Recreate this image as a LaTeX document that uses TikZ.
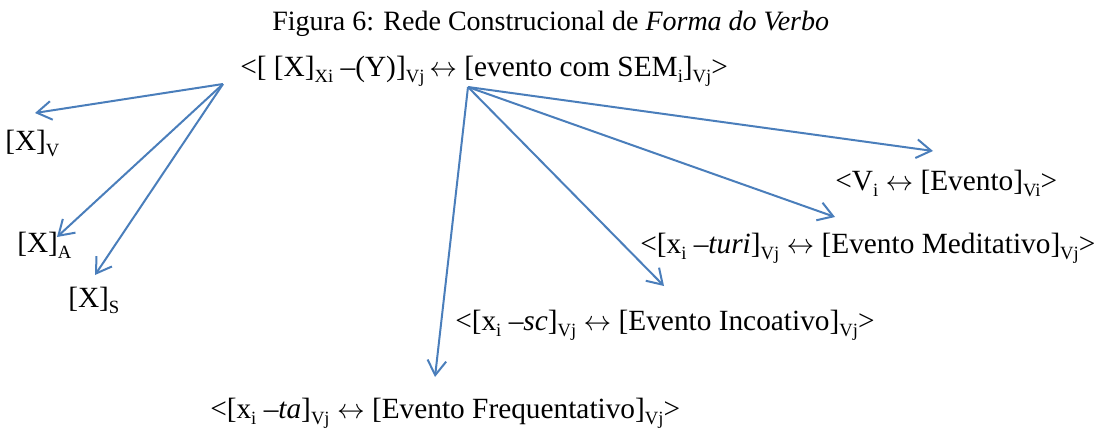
\documentclass[tikz,border=0pt]{standalone}
\usepackage{fontspec}
\setmainfont{Liberation Serif}[
  UprightFont = *,
  ItalicFont = * Italic,
  BoldFont = * Bold]
\usetikzlibrary{arrows.meta}
\definecolor{linkblue}{HTML}{4A7EBB}
\newcommand{\sbs}[1]{\raisebox{-4.5pt}{\fontsize{14}{14}\selectfont #1}}
\newcommand{\lra}{$\leftrightarrow$}

\begin{document}
\begin{tikzpicture}[x=0.75pt, y=-0.75pt,
    cxn/.style={font=\fontsize{22}{24}\selectfont, inner sep=0pt, anchor=base west},
    link/.style={draw=linkblue, line width=1.5pt, -{Straight Barb[length=11pt,width=14pt]}}]
    \useasboundingbox (0,0) rectangle (1097,433);

    \node[cxn, font=\fontsize{21}{24}\selectfont] (title) at (272,30) {Figura 6: Rede Construcional de \textit{Forma do Verbo}};
    \node[cxn] (verbo) at (240,76) {<[ [X]\sbs{Xi} –(Y)]\sbs{Vj}\,\lra\ [evento com SEM\sbs{i}]\sbs{Vj}>};

    % lado esquerdo
    \node[cxn] (xv) at (5,150) {[X]\sbs{V}};
    \node[cxn] (xa) at (17,252) {[X]\sbs{A}};
    \node[cxn] (xs) at (68,307) {[X]\sbs{S}};

    % lado direito
    \node[cxn] (vi) at (835,190) {<V\sbs{i} \lra\ [Evento]\sbs{Vi}>};
    \node[cxn] (turi) at (640,253) {<[x\sbs{i} –\textit{turi}]\sbs{Vj} \lra\ [Evento Meditativo]\sbs{Vj}>};
    \node[cxn] (sc) at (455,330) {<[x\sbs{i} –\textit{sc}]\sbs{Vj} \lra\ [Evento Incoativo]\sbs{Vj}>};
    \node[cxn] (ta) at (210,418) {<[x\sbs{i} –\textit{ta}]\sbs{Vj} \lra\ [Evento Frequentativo]\sbs{Vj}>};

    % pontos de saida e chegada das setas
    \coordinate (lsrc) at (223,84);
    \coordinate (rsrc) at (468,87);
    \coordinate (xv-in) at (35,113);
    \coordinate (xa-in) at (57,237);
    \coordinate (xs-in) at (95,275);
    \coordinate (vi-in) at (933,151);
    \coordinate (turi-in) at (835,217);
    \coordinate (sc-in) at (664,286);
    \coordinate (ta-in) at (435,377);

    \draw[link] (lsrc) -- (xv-in);
    \draw[link] (lsrc) -- (xa-in);
    \draw[link] (lsrc) -- (xs-in);
    \draw[link] (rsrc) -- (vi-in);
    \draw[link] (rsrc) -- (turi-in);
    \draw[link] (rsrc) -- (sc-in);
    \draw[link] (rsrc) -- (ta-in);
\end{tikzpicture}
\end{document}
